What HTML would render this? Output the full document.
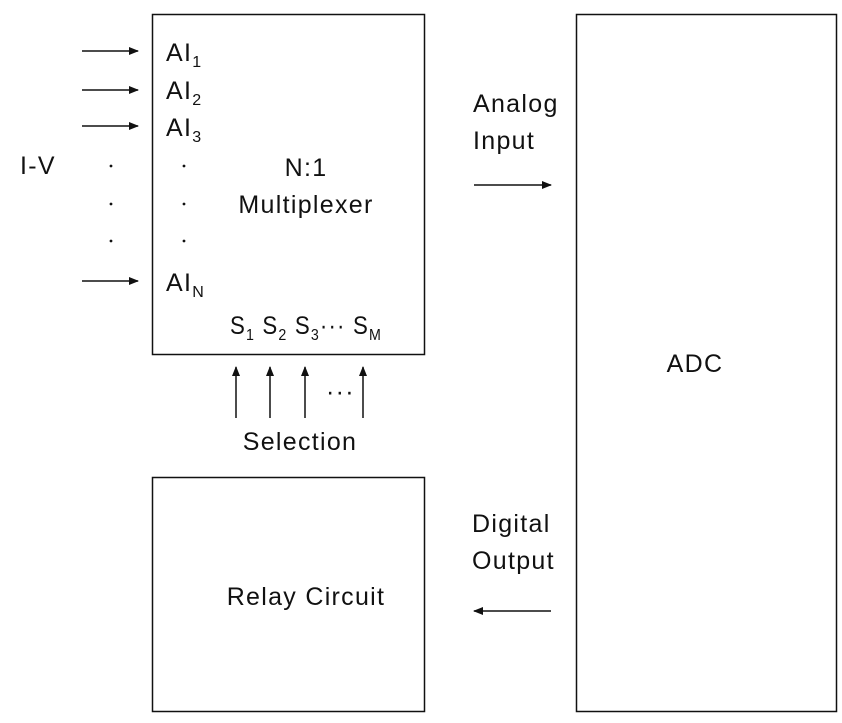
<!DOCTYPE html>
<html><head><style>html,body{margin:0;padding:0;background:#fff}svg{display:block}text{font-family:"Liberation Sans",sans-serif;font-size:25px;letter-spacing:1.3px;fill:#111}</style></head><body>
<svg width="842" height="723" viewBox="0 0 842 723" xmlns="http://www.w3.org/2000/svg">
<defs><marker id="a" markerWidth="10" markerHeight="8" refX="9" refY="4" orient="auto" markerUnits="userSpaceOnUse"><path d="M0,0 L10,4 L0,8 z" fill="#111"/></marker></defs>
<g fill="none" stroke="#111" stroke-width="1.5">
<rect x="152.5" y="14.5" width="272" height="340"/>
<rect x="576.5" y="14.5" width="260" height="697"/>
<rect x="152.5" y="477.5" width="272" height="234"/>
</g>
<g stroke="#111" stroke-width="1.5" marker-end="url(#a)">
<line x1="82" y1="51" x2="138" y2="51"/>
<line x1="82" y1="90" x2="138" y2="90"/>
<line x1="82" y1="126" x2="138" y2="126"/>
<line x1="82" y1="281" x2="138" y2="281"/>
<line x1="236" y1="418" x2="236" y2="367"/>
<line x1="270" y1="418" x2="270" y2="367"/>
<line x1="305" y1="418" x2="305" y2="367"/>
<line x1="363" y1="418" x2="363" y2="367"/>
<line x1="474" y1="185" x2="551" y2="185"/>
<line x1="551" y1="611" x2="474" y2="611"/>
</g>
<text x="166" y="61">AI<tspan font-size="16" dy="6">1</tspan></text>
<text x="166" y="99">AI<tspan font-size="16" dy="6">2</tspan></text>
<text x="166" y="136">AI<tspan font-size="16" dy="6">3</tspan></text>
<text x="166" y="291">AI<tspan font-size="16" dy="6">N</tspan></text>
<g fill="#111"><circle cx="111" cy="166" r="1.4"/><circle cx="111" cy="204" r="1.4"/><circle cx="111" cy="241" r="1.4"/><circle cx="184" cy="166" r="1.4"/><circle cx="184" cy="204" r="1.4"/><circle cx="184" cy="241" r="1.4"/></g>
<text x="20" y="174">I-V</text>
<text x="306" y="176" text-anchor="middle">N:1</text>
<text x="306" y="213" text-anchor="middle">Multiplexer</text>
<text x="230" y="334" letter-spacing="0" textLength="152" lengthAdjust="spacingAndGlyphs">S<tspan font-size="16" dy="6">1</tspan><tspan dy="-6"> S</tspan><tspan font-size="16" dy="6">2</tspan><tspan dy="-6"> S</tspan><tspan font-size="16" dy="6">3</tspan><tspan dy="-6">··· S</tspan><tspan font-size="16" dy="6">M</tspan></text>
<text x="326" y="400" letter-spacing="0">···</text>
<text x="300" y="450" text-anchor="middle">Selection</text>
<text x="473" y="112">Analog</text>
<text x="473" y="149">Input</text>
<text x="695" y="372" text-anchor="middle">ADC</text>
<text x="472" y="532">Digital</text>
<text x="472" y="569">Output</text>
<text x="306" y="605" text-anchor="middle">Relay Circuit</text>
</svg>
</body></html>
